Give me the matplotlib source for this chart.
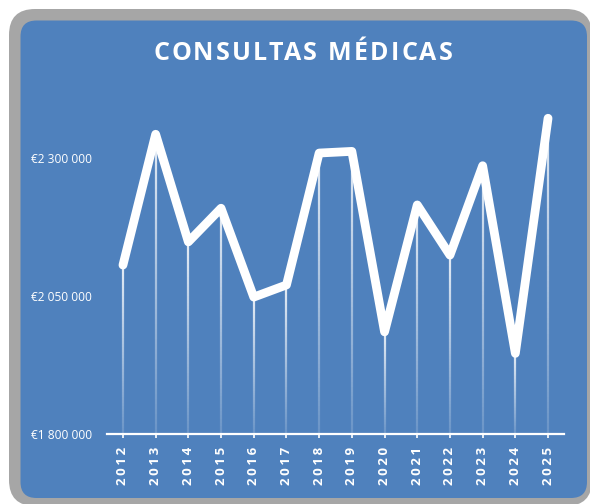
import numpy as np
import matplotlib
matplotlib.use("Agg")
import matplotlib.pyplot as plt
from matplotlib.patches import FancyBboxPatch
from matplotlib.collections import LineCollection

# data
years = ["2012", "2013", "2014", "2015", "2016", "2017", "2018",
         "2019", "2020", "2021", "2022", "2023", "2024", "2025"]
consultas = [2106000, 2343000, 2148000, 2209000, 2048000, 2070000, 2309000,
             2312000, 1985000, 2215000, 2124000, 2286000, 1946000, 2372000]
y_ticks = [1800000, 2050000, 2300000]

BLUE = "#4F81BD"
GREY = "#A6A6A6"
FONT = ["Open Sans", "DejaVu Sans"]

W, H = 590, 504
fig = plt.figure(figsize=(W / 100, H / 100), dpi=100)


def px_box(x0, y0, x1, y1):
    # pixel box (from top-left) -> figure fraction (left, bottom, width, height)
    return x0 / W, 1 - y1 / H, (x1 - x0) / W, (y1 - y0) / H


# rounded frame: grey shadow/border, blue panel
for (x0, y0, x1, y1), rad, col, z in [((9, 9, 592, 506), 26, GREY, -20),
                                      ((20.5, 20.5, 587, 498), 16, BLUE, -10)]:
    l, b, w, h = px_box(x0, y0, x1, y1)
    fig.patches.append(FancyBboxPatch(
        (l, b), w, h, boxstyle=f"round,pad=0,rounding_size={rad / W}",
        transform=fig.transFigure, facecolor=col, edgecolor="none",
        mutation_aspect=W / H, zorder=z))


def spaced_text(x, y, s, track, **kw):
    """Draw text centred at (x, y) in figure pixels with extra letter spacing."""
    r = fig.canvas.get_renderer()
    widths = []
    for i in range(1, len(s) + 1):
        t = fig.text(0, 0, s[:i], **kw)
        widths.append(t.get_window_extent(r).width)
        t.remove()
    total = widths[-1] + track * (len(s) - 1)
    start = x - total / 2
    for i, ch in enumerate(s):
        if ch == " ":
            continue
        fig.text((start + widths[i] + i * track) / W, 1 - y / H, ch,
                 ha="right", va="center", **kw)


spaced_text(303, 53, "CONSULTAS MÉDICAS", 2.2, color="white",
            fontsize=18, fontweight="bold", family=FONT)

ax = fig.add_axes(px_box(106.6, 102.8, 564.4, 434))
ax.set_facecolor("none")
x = np.arange(len(years))
ax.set_xlim(-0.5, len(years) - 0.5)
ax.set_ylim(1800000, 2400000)

# fading drop lines from each point down to the axis
n = 60
segs, cols = [], []
for xi, v in zip(x, consultas):
    ys = np.linspace(v, y_ticks[0], n + 1)
    for k in range(n):
        segs.append([(xi, ys[k]), (xi, ys[k + 1])])
        cols.append((1, 1, 1, 0.85 - 0.7 * k / n))
ax.add_collection(LineCollection(segs, colors=cols, linewidths=1.6, zorder=2))

ax.plot(x, consultas, color="white", lw=6.3, solid_joinstyle="round",
        solid_capstyle="round", zorder=3)

for side in ["top", "right", "left"]:
    ax.spines[side].set_visible(False)
ax.spines["bottom"].set_color("white")
ax.spines["bottom"].set_linewidth(1.6)

ax.set_yticks(y_ticks)
ax.set_yticklabels([f"€{v // 1000000} {v // 1000 % 1000:03d} 000" for v in y_ticks],
                   color="white", fontsize=8.6, family=FONT)
ax.tick_params(axis="y", length=0, pad=10.5)

ax.set_xticks(x)
ax.set_xticklabels(["\u2009".join(y) for y in years], rotation=90,
                   color="white", fontsize=9.5, fontweight="bold", family=FONT)
ax.tick_params(axis="x", length=3, width=1.2, color="white", pad=6.5)

fig.savefig("out.png", dpi=100)
